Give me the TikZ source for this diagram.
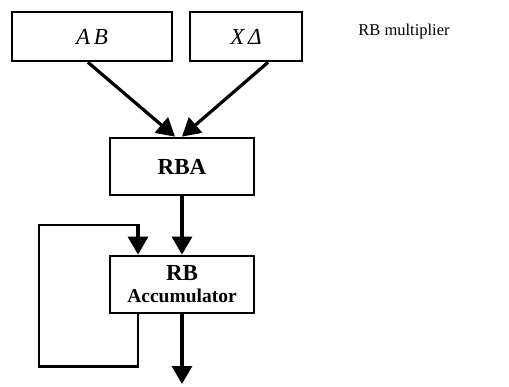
\documentclass[tikz,border=0pt]{standalone}
\usepackage{fontspec}
\setmainfont{Liberation Serif}
\usetikzlibrary{arrows.meta}

\begin{document}
\begin{tikzpicture}[x=1pt,y=1pt,
    box/.style={draw, black, line width=2.7pt, inner sep=0pt},
    arr/.style={black, line width=3.2pt, -{Triangle[length=18pt,width=20pt]}},
    fb/.style={black, line width=2.8pt}]
\useasboundingbox (0,0) rectangle (509,386);
% operand registers
\node[box, minimum width=160, minimum height=49] (ab) at (92,349.5)
    {\fontsize{23}{23}\selectfont\itshape A\,B};
\node[box, minimum width=112, minimum height=49] (xd) at (246,349.5)
    {\fontsize{23}{23}\selectfont\itshape X\,Δ};
\node (mult) at (404,354) {\fontsize{16.5}{18}\selectfont RB multiplier};
% adder and accumulator
\node[box, minimum width=144, minimum height=57, font=\bfseries] (rba) at (182,219.5)
    {\fontsize{23}{23}\selectfont RBA};
\node[box, minimum width=144, minimum height=57, align=center,
    font=\bfseries\fontsize{23}{22}\selectfont] (acc) at (182,101.5)
    {RB\\{\fontsize{19.5}{22}\selectfont Accumulator}};
\coordinate (out) at (182,2);
\coordinate (fbout) at ([xshift=-44]acc.south);
\coordinate (fbin) at ([xshift=-44]acc.north);
% connections
\draw[arr] ([xshift=-4]ab.south) -- ([xshift=-7]rba.north);
\draw[arr] ([xshift=22]xd.south) -- ([xshift=0]rba.north);
\draw[arr] (rba) -- (acc);
\draw[arr] (acc) -- (out);
\draw[fb] (fbout) -- ++(0,-52) -| (39,161) -| (fbin |- 0,161);
\draw[arr] (fbin |- 0,162.4) -- (fbin);
\end{tikzpicture}
\end{document}
